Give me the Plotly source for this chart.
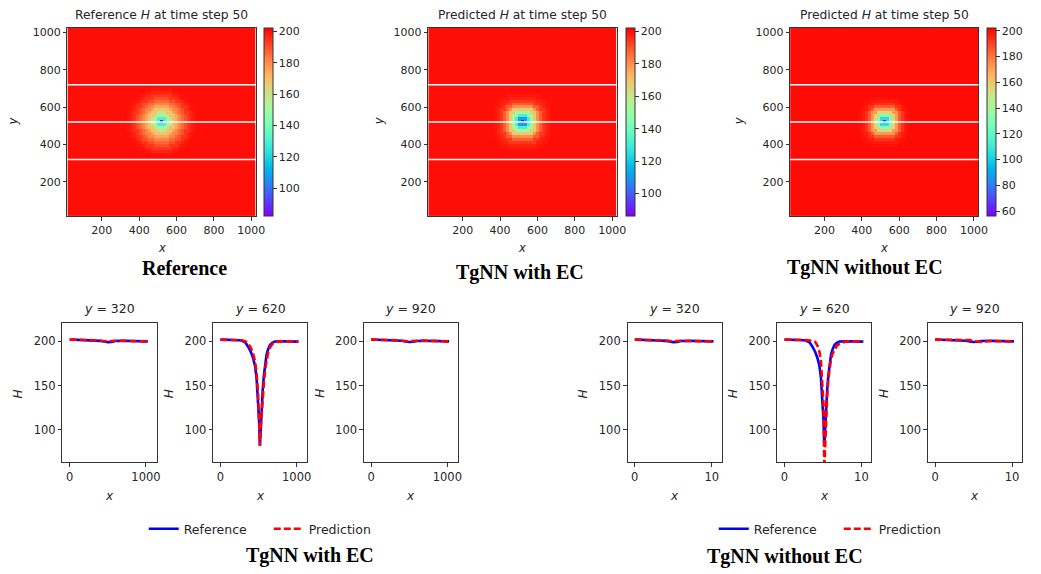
import numpy as np
import plotly.graph_objects as go

# ---------------- data ----------------
grid_start = 24          # first cell centre
grid_step = 16           # cell size
grid_n = 63              # cells per side
well_x = 520
well_y = 520
background_H = 200.0

# H value per ring (ring 0 = pumping cell)
ref_ring_H = [82, 130, 148, 160, 168, 175, 181, 186, 190, 194, 197, 199]
ec_ring_H = [86, 112, 132, 152, 168, 180, 188, 194, 197, 199]
noec_ring_H = [56, 105, 130, 155, 172, 185, 193, 197, 199]

cbar_ranges = [(82, 202), (86, 202), (56, 202)]
cut_lines_y = [320, 520, 720]
heat_ticks = [200, 400, 600, 800, 1000]
cbar_ticks = [[100, 120, 140, 160, 180, 200],
              [100, 120, 140, 160, 180, 200],
              [60, 80, 100, 120, 140, 160, 180, 200]]
heat_titles = ["Reference <i>H</i> at time step 50",
               "Predicted <i>H</i> at time step 50",
               "Predicted <i>H</i> at time step 50"]
heat_captions = ["Reference", "TgNN with EC", "TgNN without EC"]

# profiles along x (TgNN with EC, x in 0..1024)
x_flat = [0, 100, 200, 300, 400, 450, 500, 550, 600, 700, 800, 900, 1024]
ref_320 = [202.2, 202, 201.8, 201.3, 200.6, 200, 199.2, 199.5, 200.5, 200.8, 200.5, 200.2, 200]
pred_320 = [202, 202, 201.7, 201.4, 200.8, 200.3, 200, 200.4, 200.8, 200.7, 200.4, 200, 199.8]
ref_920 = [202.2, 202, 201.8, 201.4, 200.7, 200, 199.3, 199.6, 200.4, 200.7, 200.5, 200.3, 200]
pred_920 = [202, 202.1, 201.9, 201.5, 200.7, 200.3, 200.1, 200.5, 200.9, 201, 200.6, 200.2, 199.8]

x_dip = [0, 100, 200, 280, 330, 364, 400, 430, 455, 474, 496, 508, 518, 528, 540,
         555, 571, 590, 605, 625, 650, 680, 715, 800, 900, 1024]
ref_620 = [202, 202, 201.6, 201, 198.5, 194, 188, 181, 172, 159, 133, 110, 82, 105, 125,
           145, 162, 176, 185, 191, 196, 198.5, 200, 200.2, 200, 199.8]
pred_620 = [202, 202, 201.7, 201.2, 200, 198, 192.5, 186, 177, 165, 138, 112, 82, 100, 118,
            138, 154, 170, 178, 187, 193, 197, 199.3, 200.3, 200.1, 199.9]

# profiles along x (TgNN without EC, x in 0..10.24)
x_flat_n = [0, 1, 2, 3, 4, 4.5, 5, 5.5, 6, 7, 8, 9, 10.24]
pred_320_n = [202, 201.9, 201.5, 201.2, 201, 200.6, 200.3, 200.4, 200.6, 200.5, 200.3, 200.1, 200]
pred_920_n = [202, 202, 201.8, 201.8, 202.3, 201.5, 200.3, 199.6, 199.4, 200.5, 200.4, 200.1, 199.8]
x_dip_n = [0, 1, 2, 2.8, 3.3, 3.64, 4.0, 4.3, 4.55, 4.74, 4.96, 5.08, 5.18, 5.28, 5.4,
           5.55, 5.71, 5.9, 6.05, 6.25, 6.5, 6.8, 7.15, 8, 9, 10.24]
pred_620_n = [202, 202, 201.8, 201.5, 201, 200.5, 199.5, 195, 188, 178, 150, 128, 56, 85, 108,
              138, 158, 172, 180, 186, 191, 195, 197.5, 200, 200.2, 200]

line_titles = ["<i>y</i> = 320", "<i>y</i> = 620", "<i>y</i> = 920"]

# ---------------- helpers ----------------
W, H = 1041, 574
def px(x):
    return x / W
def py(y):
    return 1 - y / H
def sfx(n):
    return "" if n == 1 else str(n)

s = np.linspace(0, 1, 17)
rb = np.column_stack([np.clip(np.abs(2 * s - 0.5), 0, 1), np.sin(np.pi * s), np.cos(np.pi * s / 2)])
rainbow = [[float(v), "rgb(%d,%d,%d)" % tuple((c * 255).round().astype(int))] for v, c in zip(s, rb)]

def field(ring_H, p_norm):
    coords = grid_start + grid_step * np.arange(grid_n)
    DX, DY = np.meshgrid((coords - well_x) / grid_step, (coords - well_y) / grid_step)
    d = np.rint((np.abs(DX) ** p_norm + np.abs(DY) ** p_norm) ** (1.0 / p_norm))
    Z = np.full(d.shape, background_H)
    for k, v in enumerate(ring_H):
        Z[d == k] = v
    return coords, Z

fig = go.Figure()
annotations = []
shapes = []
top_tick_font = dict(family="DejaVu Sans", size=11, color="#262626")
bot_tick_font = dict(family="DejaVu Sans", size=11.5, color="#262626")
axis_common = dict(showline=True, mirror=True, linecolor="#333333", linewidth=1,
                   ticks="outside", ticklen=3.5, tickwidth=1, tickcolor="#333333",
                   showgrid=False, zeroline=False)

def ann(text, x, y, size=11.5, angle=0, family="DejaVu Sans", color="#262626"):
    annotations.append(dict(text=text, x=px(x), y=py(y), xref="paper", yref="paper",
                            showarrow=False, xanchor="center", yanchor="middle",
                            textangle=angle, font=dict(family=family, size=size, color=color)))

# ---------------- heatmaps ----------------
heat_left = [68, 432, 797]
heat_w = 190
heat_top, heat_bot = 26, 215
cbar_left = [266, 631, 996]
ylab_x = [13, 382, 745]
cap_pos = [(186, 267), (525, 271), (873, 266)]
fields = [field(ref_ring_H, 2), field(ec_ring_H, 3), field(noec_ring_H, 3)]

layout_axes = {}
for i in range(3):
    n = i + 1
    k = sfx(n)
    coords, Z = fields[i]
    fig.add_trace(go.Heatmap(
        x=coords, y=coords, z=Z, colorscale=rainbow,
        zmin=cbar_ranges[i][0], zmax=cbar_ranges[i][1],
        xaxis="x" + k, yaxis="y" + k,
        colorbar=dict(x=px(cbar_left[i]), xanchor="left", xref="paper",
                      y=py(heat_bot), yanchor="bottom", yref="paper",
                      len=(heat_bot - heat_top) / H, lenmode="fraction",
                      thickness=9, thicknessmode="pixels",
                      outlinewidth=1, outlinecolor="#333333",
                      ticks="outside", ticklen=3.5, tickcolor="#333333",
                      tickvals=cbar_ticks[i], tickfont=top_tick_font, xpad=0, ypad=0),
        showscale=True, hoverinfo="skip"))
    layout_axes["xaxis" + k] = dict(axis_common, domain=[px(heat_left[i]), px(heat_left[i] + heat_w)],
                                    range=[16, 1024], tickvals=heat_ticks, anchor="y" + k,
                                    tickfont=top_tick_font)
    layout_axes["yaxis" + k] = dict(axis_common, domain=[py(heat_bot), py(heat_top)],
                                    range=[16, 1024], tickvals=heat_ticks, anchor="x" + k,
                                    tickfont=top_tick_font)
    for ly in cut_lines_y:
        shapes.append(dict(type="line", xref="x%s domain" % k, yref="y" + k,
                           x0=0, x1=1, y0=ly, y1=ly, line=dict(color="white", width=1.5)))
    cx = heat_left[i] + heat_w / 2
    ann(heat_titles[i], cx, 13, size=12.3)
    ann("<i>x</i>", cx, 247, size=11.5)
    ann("<i>y</i>", ylab_x[i], 120, size=11.5, angle=-90)
    ann("<b>%s</b>" % heat_captions[i], cap_pos[i][0], cap_pos[i][1], size=20,
        family="Liberation Serif", color="black")

# ---------------- line plots ----------------
line_left = [63, 215, 367, 633, 784, 936]
line_w = 95
line_top, line_bot = 322, 462
line_sets = [
    (x_flat, ref_320, pred_320), (x_dip, ref_620, pred_620), (x_flat, ref_920, pred_920),
    (x_flat_n, ref_320, pred_320_n), (x_dip_n, ref_620, pred_620_n), (x_flat_n, ref_920, pred_920_n),
]
for j in range(6):
    n = j + 4
    k = sfx(n)
    xs, r, p = line_sets[j]
    leg = "legend" if j < 3 else "legend2"
    show = j in (1, 4)
    fig.add_trace(go.Scatter(x=xs, y=r, mode="lines", name="Reference",
                             line=dict(color="#0000ff", width=2.6),
                             xaxis="x" + k, yaxis="y" + k,
                             showlegend=show, legend=leg, hoverinfo="skip"))
    fig.add_trace(go.Scatter(x=xs, y=p, mode="lines", name="Prediction",
                             line=dict(color="#ff0000", width=2.6, dash="7px,3px"),
                             xaxis="x" + k, yaxis="y" + k,
                             showlegend=show, legend=leg, hoverinfo="skip"))
    if j < 3:
        xr, xt = [-95, 1140], [0, 1000]
    else:
        xr, xt = [-0.94, 11.3], [0, 10]
    layout_axes["xaxis" + k] = dict(axis_common, domain=[px(line_left[j]), px(line_left[j] + line_w)],
                                    range=xr, tickvals=xt, anchor="y" + k, tickfont=bot_tick_font)
    layout_axes["yaxis" + k] = dict(axis_common, domain=[py(line_bot), py(line_top)],
                                    range=[63, 221], tickvals=[100, 150, 200], anchor="x" + k,
                                    tickfont=bot_tick_font)
    cx = line_left[j] + line_w / 2
    ann(line_titles[j % 3], cx, 308, size=12.5)
    ann("<i>x</i>", cx, 496, size=12)
    ann("<i>H</i>", line_left[j] - 45, 393, size=12, angle=-90)

ann("<b>TgNN with EC</b>", 313, 555, size=20, family="Liberation Serif", color="black")
ann("<b>TgNN without EC</b>", 792, 556, size=20, family="Liberation Serif", color="black")

legend_common = dict(orientation="h", yanchor="middle", xanchor="left",
                     font=dict(family="DejaVu Sans", size=12.5, color="#262626"),
                     bgcolor="rgba(0,0,0,0)", itemwidth=30, entrywidth=80,
                     entrywidthmode="pixels", tracegroupgap=0)

fig.update_layout(
    width=W, height=H, margin=dict(l=0, r=0, t=0, b=0),
    paper_bgcolor="white", plot_bgcolor="white",
    annotations=annotations, shapes=shapes,
    legend=dict(legend_common, x=px(145), y=py(529)),
    legend2=dict(legend_common, x=px(720), y=py(529)),
    **layout_axes)

fig.write_html("out.html")
